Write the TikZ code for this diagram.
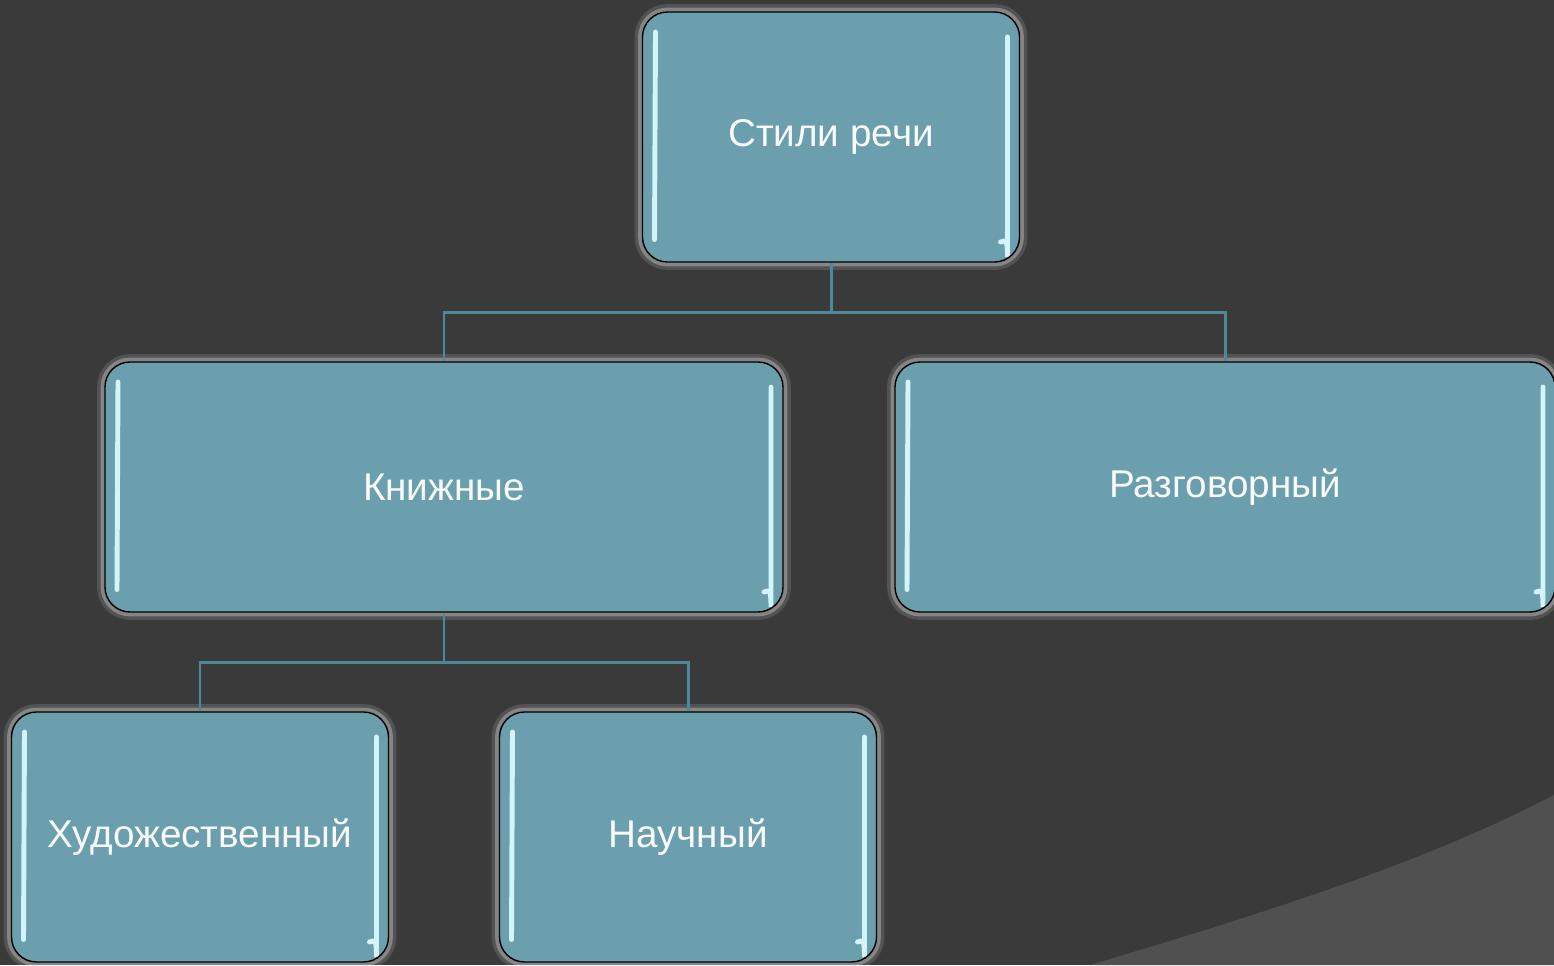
\documentclass[tikz,border=0pt]{standalone}
\usepackage{fontspec}
\setmainfont{Liberation Sans}
\usetikzlibrary{positioning}
\definecolor{bgdark}{HTML}{3A3A3A}
\definecolor{bglight}{HTML}{505050}
\definecolor{boxfill}{HTML}{6B9FAE}
\definecolor{linkcol}{HTML}{4D8A99}
\definecolor{glosscol}{HTML}{D2F4FA}
\begin{document}
\begin{tikzpicture}[node distance=7cm,on grid,
  stylebox/.style={rectangle,rounded corners=0.5cm,fill=boxfill,draw=black,line width=0.8pt,
    text=white!95!boxfill,font=\fontsize{22}{26}\selectfont,
    minimum height=5cm,minimum width=7.54cm,
    preaction={draw=white!80!gray,line width=9pt,opacity=0.15},
    preaction={draw=white!80!gray,line width=5pt,opacity=0.35},
    path picture={
      \draw[gloss] ([xshift=0.26cm,yshift=-0.4cm]path picture bounding box.north west)
        -- ([xshift=0.24cm,yshift=0.45cm]path picture bounding box.south west);
      \draw[gloss] ([xshift=-0.24cm,yshift=-0.5cm]path picture bounding box.north east)
        -- ([xshift=-0.24cm,yshift=0.6cm]path picture bounding box.south east)
        to[out=-90,in=10] ([xshift=-0.38cm,yshift=0.4cm]path picture bounding box.south east);
    }},
  gloss/.style={draw=glosscol,line width=2.8pt,line cap=round},
  link/.style={draw=linkcol,line width=1.7pt}]
  \useasboundingbox (0,0) rectangle (31.08,-19.3);
  \fill[bgdark] (0,0) rectangle (31.08,-19.3);
  \fill[bglight] (21.8,-19.3) .. controls (25.5,-18.2) and (28.6,-17.2) .. (31.08,-15.9) -- (31.08,-19.3) -- cycle;

  \node[stylebox] (stili) at (16.62,-2.74) {Стили речи};
  \node[stylebox,minimum width=13.56cm] (knizh) [below left=7cm and 7.74cm of stili] {Книжные};
  \node[stylebox,minimum width=13.2cm] (razg) [below right=7cm and 7.88cm of stili] {Разговорный};
  \node[stylebox] (khud) [below left=7cm and 4.88cm of knizh] {Художественный};
  \node[stylebox] (nauch) [below right=7cm and 4.88cm of knizh] {Научный};

  \draw[link] (stili.south) -- ++(0,-0.99) -| (knizh.north);
  \draw[link] (stili.south) -- ++(0,-0.99) -| (razg.north);
  \draw[link] (knizh.south) -- ++(0,-1) -| (khud.north);
  \draw[link] (knizh.south) -- ++(0,-1) -| (nauch.north);
\end{tikzpicture}
\end{document}
